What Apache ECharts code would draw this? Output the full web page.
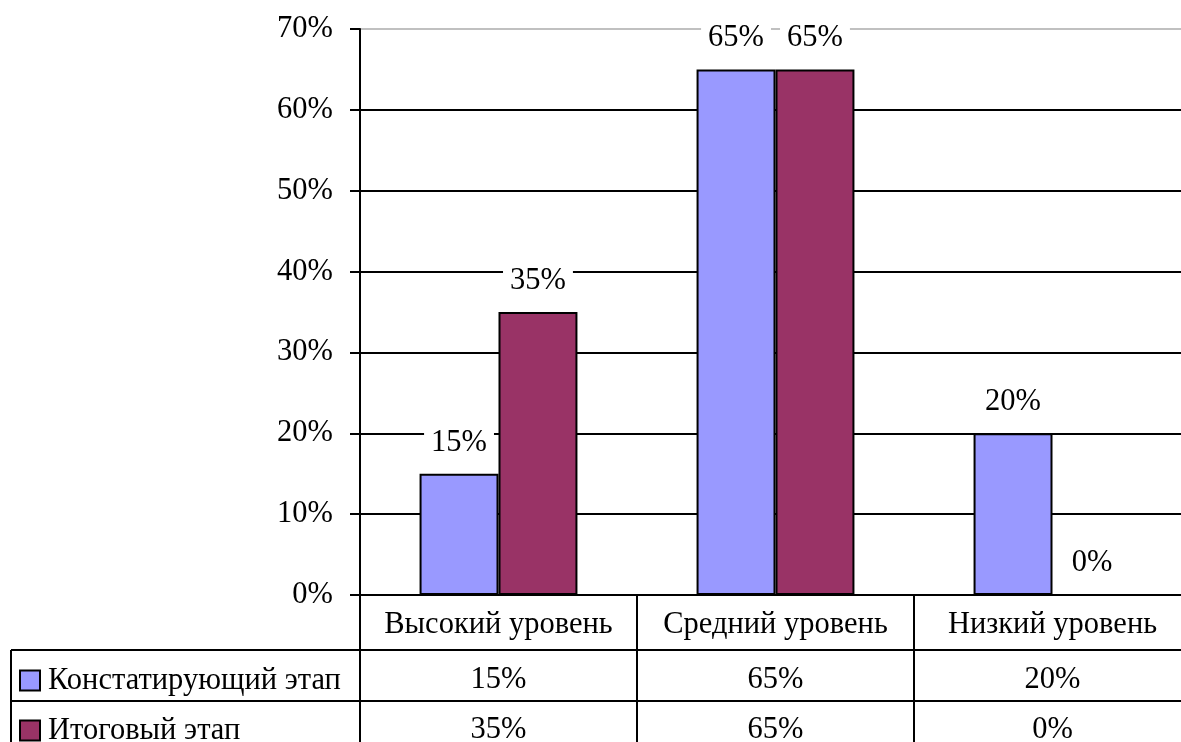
<!DOCTYPE html>
<html>
<head>
<meta charset="utf-8">
<script src="https://cdn.jsdelivr.net/npm/echarts@6/dist/echarts.min.js"></script>
<style>
html,body{margin:0;padding:0;background:#fff;}
#chart{width:1181px;height:742px;}
</style>
</head>
<body>
<div id="chart"></div>
<script>
const categories = ['Высокий уровень', 'Средний уровень', 'Низкий уровень'];
const seriesNames = ['Констатирующий этап', 'Итоговый этап'];
const stageStart = [15, 65, 20];
const stageFinal = [35, 65, 0];
const yMin = 0, yMax = 70, yStep = 10;

const FONT = "'Liberation Serif', 'Times New Roman', serif";
const FS = 30.5;
const gridLeft = 360, gridTop = 29, gridBottomY = 595;
const rowLines = [650, 701];
const legendCenters = [680, 730];
const tableLeft = 11;
const H = 742;

const chart = echarts.init(document.getElementById('chart'), null, {renderer: 'canvas'});
const pct = v => v + '%';

const barLabel = {
  show: true, position: 'top', distance: 14,
  formatter: p => pct(p.value),
  fontFamily: FONT, fontSize: FS, color: '#000', lineHeight: 30,
  backgroundColor: '#fff', padding: [2, 7]
};

const gridColors = [];
for (let v = yMin; v <= yMax; v += yStep) gridColors.push(v === yMax ? '#c0c0c0' : '#000');

const legendBase = i => ({
  orient: 'vertical', left: 19, top: legendCenters[i] - 15,
  itemWidth: 20, itemHeight: 20, icon: 'rect', padding: 0,
  itemStyle: {borderColor: '#000', borderWidth: 2},
  textStyle: {fontFamily: FONT, fontSize: FS, color: '#000', lineHeight: 30, padding: [0, 0, 0, 3]},
  data: [seriesNames[i]]
});

const option = {
  backgroundColor: '#fff',
  animation: false,
  grid: {left: gridLeft, right: -10, top: gridTop, bottom: H - gridBottomY, outerBoundsMode: 'none', containLabel: false},
  legend: [legendBase(0), legendBase(1)],
  xAxis: [
    {
      type: 'category', data: categories, position: 'bottom',
      axisLine: {show: true, lineStyle: {color: '#000', width: 2}},
      axisTick: {show: true, interval: 0, alignWithLabel: false, length: 160, lineStyle: {color: '#000', width: 2}},
      axisLabel: {interval: 0, margin: 15, fontFamily: FONT, fontSize: FS, color: '#000', lineHeight: 30},
      splitLine: {show: false}
    },
    {
      type: 'category', data: stageStart.map(pct), position: 'bottom', offset: rowLines[0] - gridBottomY,
      axisLine: {show: true, lineStyle: {color: '#000', width: 2}},
      axisTick: {show: false},
      axisLabel: {interval: 0, margin: 15, fontFamily: FONT, fontSize: FS, color: '#000', lineHeight: 30}
    },
    {
      type: 'category', data: stageFinal.map(pct), position: 'bottom', offset: rowLines[1] - gridBottomY,
      axisLine: {show: true, lineStyle: {color: '#000', width: 2}},
      axisTick: {show: false},
      axisLabel: {interval: 0, margin: 14, fontFamily: FONT, fontSize: FS, color: '#000', lineHeight: 30}
    }
  ],
  yAxis: {
    type: 'value', min: yMin, max: yMax, interval: yStep,
    axisLine: {show: true, lineStyle: {color: '#000', width: 2}},
    axisTick: {show: true, length: 10, lineStyle: {color: '#000', width: 2}},
    axisLabel: {formatter: '{value}%', margin: 27, fontFamily: FONT, fontSize: FS, color: '#000', padding: [6, 0, 0, 0]},
    splitLine: {show: true, lineStyle: {color: gridColors, width: 2}}
  },
  series: [
    {
      name: seriesNames[0], type: 'bar', data: stageStart, xAxisIndex: 0,
      barGap: '0%', barCategoryGap: '43%',
      itemStyle: {color: '#9999FF', borderColor: '#000', borderWidth: 2},
      label: barLabel
    },
    {
      name: seriesNames[1], type: 'bar', data: stageFinal, xAxisIndex: 0,
      barGap: '0%', barCategoryGap: '43%',
      itemStyle: {color: '#993366', borderColor: '#000', borderWidth: 2},
      label: barLabel
    }
  ],
  graphic: [
    {type: 'line', shape: {x1: tableLeft, y1: rowLines[0], x2: gridLeft, y2: rowLines[0]}, style: {stroke: '#000', lineWidth: 2}},
    {type: 'line', shape: {x1: tableLeft, y1: rowLines[1], x2: gridLeft, y2: rowLines[1]}, style: {stroke: '#000', lineWidth: 2}},
    {type: 'line', shape: {x1: tableLeft, y1: rowLines[0], x2: tableLeft, y2: H + 10}, style: {stroke: '#000', lineWidth: 2}}
  ]
};
chart.setOption(option);
</script>
</body>
</html>
